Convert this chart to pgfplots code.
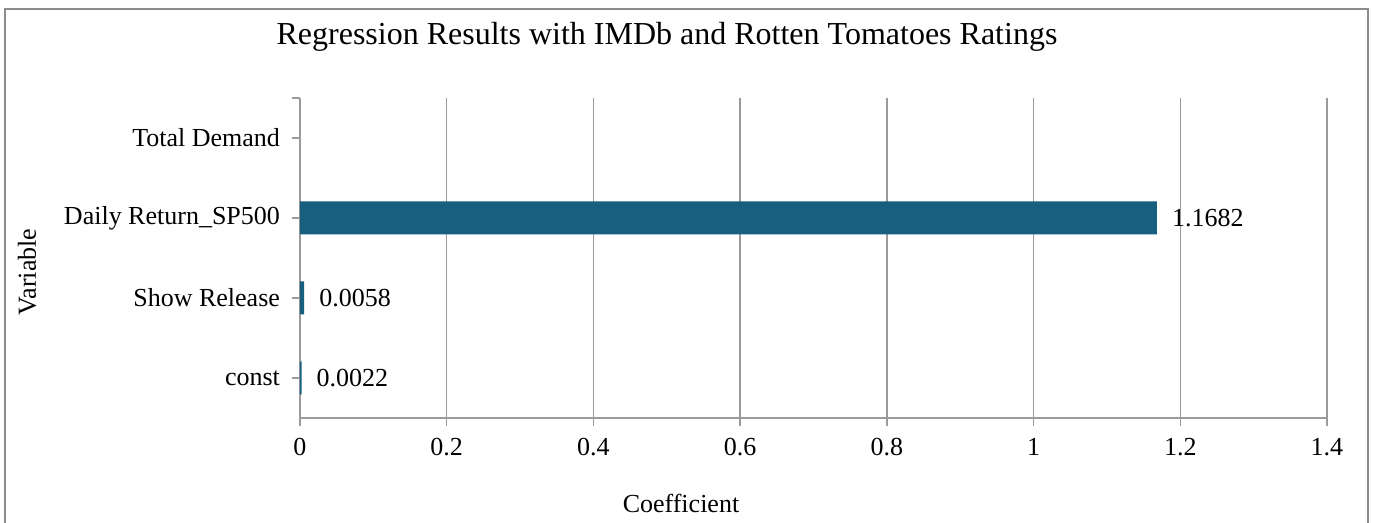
\documentclass[border=0pt]{standalone}
\usepackage{fontspec}
\setmainfont{Liberation Serif}
\usepackage{pgfplots}
\pgfplotsset{compat=1.18}
\definecolor{barblue}{HTML}{185E7F}
\definecolor{gridgray}{HTML}{9A9A9A}
\definecolor{framegray}{HTML}{8C8C8C}
\begin{document}
\begin{tikzpicture}
\useasboundingbox (-150pt,-52.5pt) rectangle (536.5pt,209pt);
\draw[framegray, line width=0.75pt] (-147.5pt,-60pt) rectangle (534pt,204.5pt);
\begin{axis}[
  at={(0pt,0pt)}, anchor=south west,
  scale only axis, width=513.5pt, height=160pt,
  xbar, bar width=16.5pt,
  xmin=0, xmax=1.4, ymin=-0.5, ymax=3.5,
  xtick={0,0.2,0.4,0.6,0.8,1,1.2,1.4},
  ytick={0,1,2,3},
  yticklabels={const,Show Release,Daily Return\_SP500,Total Demand},
  extra y ticks={3.5}, extra y tick labels={},
  axis x line*=bottom, axis y line*=left,
  x axis line style={-}, y axis line style={-},
  xmajorgrids, grid style={gridgray, line width=0.75pt},
  axis line style={gridgray, line width=0.75pt},
  tick style={gridgray, line width=0.75pt},
  tick align=outside, major tick length=4pt,
  ticklabel style={font=\fontsize{13}{15}\selectfont},
  xticklabel style={yshift=-2.5pt},
  yticklabel style={xshift=-2.5pt},
  /pgf/number format/assume math mode=true,
  nodes near coords, point meta=explicit symbolic,
  nodes near coords style={anchor=west, xshift=4pt, font=\fontsize{13}{15}\selectfont},
]
\addplot[fill=barblue, draw=none] coordinates {
  (0.0022,0) [0.0022]
  (0.0058,1) [0.0058]
  (1.1682,2) [1.1682]
};
\end{axis}
\node[font=\fontsize{16}{19}\selectfont] at (183.5pt,190.5pt) {Regression Results with IMDb and Rotten Tomatoes Ratings};
\node[font=\fontsize{13}{15}\selectfont] at (190.5pt,-42.5pt) {Coefficient};
\node[font=\fontsize{13}{15}\selectfont, rotate=90] at (-136.5pt,73pt) {Variable};
\end{tikzpicture}
\end{document}
